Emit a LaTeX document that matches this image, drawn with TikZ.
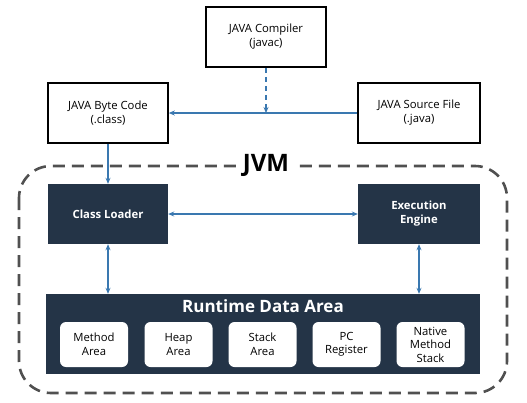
\documentclass[tikz,border=0pt]{standalone}
\usepackage{fontspec}
\setmainfont{Open Sans}
\usetikzlibrary{arrows.meta,positioning}
\definecolor{navy}{HTML}{243447}
\definecolor{arrowblue}{HTML}{3A78B0}
\definecolor{jvmgray}{HTML}{505050}
\begin{document}
\begin{tikzpicture}[x=1pt,y=-1pt,
  wbox/.style={draw=black,line width=1.6pt,fill=white,minimum width=120pt,minimum height=60pt,align=center,font=\fontsize{11.3}{14}\selectfont,inner sep=0pt},
  dbox/.style={fill=navy,text=white,minimum width=120pt,minimum height=60pt,align=center,font=\fontsize{11.3}{14}\selectfont\bfseries,inner sep=0pt},
  area/.style={fill=white,rounded corners=6pt,minimum width=68pt,minimum height=45pt,align=center,font=\fontsize{11.3}{13.5}\selectfont,inner sep=0pt},
  conn/.style={draw=arrowblue,line width=1.3pt,-{Stealth[length=6pt,width=5pt]}},
  biconn/.style={draw=arrowblue,line width=1.3pt,{Stealth[length=6pt,width=5pt]}-{Stealth[length=6pt,width=5pt]}}
]
\useasboundingbox (0,0) rectangle (527,402);
% JVM boundary
\draw[jvmgray,line width=2.6pt,dash pattern=on 12pt off 7pt,rounded corners=32pt] (19,166) rectangle (507,393);
\node[fill=white,font=\fontsize{24}{26}\selectfont\bfseries,inner xsep=7pt,inner ysep=1pt] (jvm) at (266,165) {JVM};
% top boxes
\node[wbox] (comp) at (266,37) {JAVA Compiler\\(javac)};
\node[wbox] (byte) at (108,113) {JAVA Byte Code\\(.class)};
\node[wbox,minimum width=122pt] (src) at (419,113) {JAVA Source File\\(.java)};
\coordinate (mid) at (266,113);
\draw[conn] (src.west) -- (byte.east);
\draw[conn,dash pattern=on 5pt off 4pt] (comp.south) -- (mid);
% JVM internals
\node[dbox] (cl) at (108,214) {Class Loader};
\node[dbox,minimum width=122pt] (ee) at (419,214) {Execution\\Engine};
\draw[conn] (byte.south) -- (cl.north);
\draw[biconn] (cl.east) -- (ee.west);
\node[fill=navy,minimum width=434pt,minimum height=80pt,inner sep=0pt] (rda) at (263,334) {};
\node[text=white,font=\fontsize{17}{19}\selectfont\bfseries] (rdat) at (263,306) {Runtime Data Area};
\draw[biconn] (cl.south) -- (cl.south |- rda.north);
\draw[biconn] (ee.south) -- (ee.south |- rda.north);
\node[area] (m) at (94,344.5) {Method\\Area};
\node[area] (h) at (178.5,344.5) {Heap\\Area};
\node[area] (s) at (262.5,344.5) {Stack\\Area};
\node[area] (p) at (346.5,344.5) {PC\\Register};
\node[area] (n) at (430.5,344.5) {Native\\Method\\Stack};
\end{tikzpicture}
\end{document}
